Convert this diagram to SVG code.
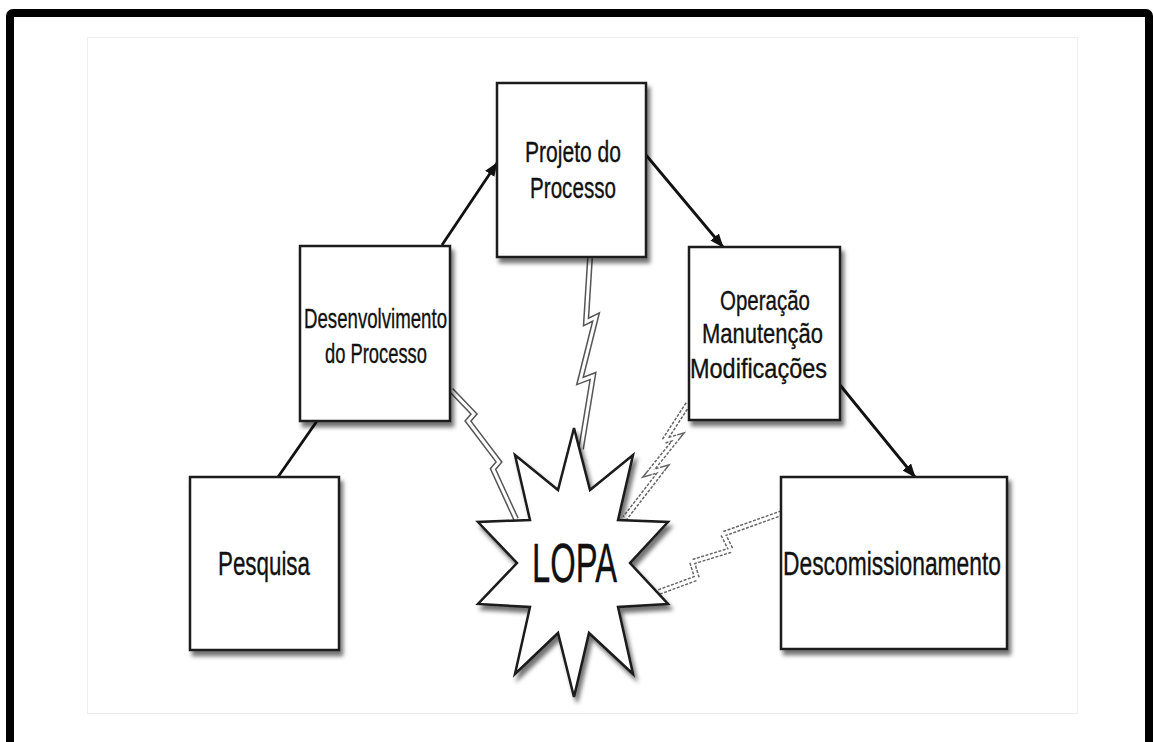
<svg xmlns="http://www.w3.org/2000/svg" width="1153" height="742" viewBox="0 0 1153 742">
<defs>
<style>
.box{fill:#fff;stroke:#1a1a1a;stroke-width:2.5;filter:url(#sh)}
.lbl{font-family:"Liberation Sans",Arial,sans-serif;fill:#111;stroke:#111;stroke-width:0.35;text-anchor:middle}
.arr{stroke:#111;stroke-width:2.8;fill:none}
.boltO{fill:none;stroke:#555;stroke-width:6;stroke-linejoin:miter}
.boltI{fill:none;stroke:#fff;stroke-width:3;stroke-linejoin:miter}
.dash{stroke-dasharray:3 1.5;stroke:#666}
</style>
<filter id="sh" x="-10%" y="-10%" width="130%" height="130%">
<feDropShadow dx="3" dy="5" stdDeviation="2" flood-color="#000" flood-opacity="0.55"/>
</filter>
<marker id="ah" markerUnits="userSpaceOnUse" markerWidth="14" markerHeight="11" viewBox="0 0 14 11" refX="13" refY="5.5" orient="auto">
<path d="M0,0 L14,5.5 L0,11 z" fill="#111"/>
</marker>
</defs>
<rect width="1153" height="742" fill="#fff"/>
<rect x="10" y="13" width="1139" height="800" rx="3" fill="none" stroke="#000" stroke-width="8"/>
<rect x="87.5" y="37.5" width="990" height="676" fill="none" stroke="#eeeeee" stroke-width="1"/>

<g id="connectors">
<line class="arr" x1="278" y1="477" x2="317" y2="421"/>
<line class="arr" x1="442" y1="245" x2="497" y2="163" marker-end="url(#ah)"/>
<line class="arr" x1="646" y1="155" x2="723" y2="247" marker-end="url(#ah)"/>
<line class="arr" x1="840" y1="385" x2="915" y2="477" marker-end="url(#ah)"/>
<g id="bolts">
<polyline class="boltO" points="451,390 474,414 468,421 499,462 493,469 516,519"/>
<polyline class="boltI" points="451,390 474,414 468,421 499,462 493,469 516,519"/>
<polyline class="boltO" points="590,258 586,322 596,317 580,381 593,376 581,449"/>
<polyline class="boltI" points="590,258 586,322 596,317 580,381 593,376 581,449"/>
<polyline class="boltO dash" points="688,404 664,441 678,437 649,473 663,469 625,518"/>
<polyline class="boltI" points="688,404 664,441 678,437 649,473 663,469 625,518"/>
<polyline class="boltO dash" points="782,513 723,534 731,550 692,562 697,578 659,592"/>
<polyline class="boltI" points="782,513 723,534 731,550 692,562 697,578 659,592"/>
</g>
</g>

<g id="node-pesquisa">
<rect class="box" x="190" y="477" width="149" height="173"/>
<text class="lbl" x="264" y="575" font-size="33" textLength="92" lengthAdjust="spacingAndGlyphs">Pesquisa</text>
</g>

<g id="node-desenvolvimento">
<rect class="box" x="300" y="246" width="150" height="175"/>
<text class="lbl" x="375.5" y="328" font-size="28" textLength="143" lengthAdjust="spacingAndGlyphs">Desenvolvimento</text>
<text class="lbl" x="376" y="363" font-size="28" textLength="102" lengthAdjust="spacingAndGlyphs">do Processo</text>
</g>

<g id="node-projeto">
<rect class="box" x="497" y="83" width="149" height="174"/>
<text class="lbl" x="573" y="162" font-size="29" textLength="96" lengthAdjust="spacingAndGlyphs">Projeto do</text>
<text class="lbl" x="573" y="198" font-size="29" textLength="86" lengthAdjust="spacingAndGlyphs">Processo</text>
</g>

<g id="node-operacao">
<rect class="box" x="689" y="247" width="151" height="173"/>
<text class="lbl" x="765" y="310" font-size="28" textLength="90" lengthAdjust="spacingAndGlyphs">Operação</text>
<text class="lbl" x="762.5" y="343" font-size="28" textLength="121" lengthAdjust="spacingAndGlyphs">Manutenção</text>
<text class="lbl" x="758.5" y="378" font-size="28" textLength="137" lengthAdjust="spacingAndGlyphs">Modificações</text>
</g>

<g id="node-descomissionamento">
<rect class="box" x="781" y="477" width="226" height="172"/>
<text class="lbl" x="892" y="575" font-size="33" textLength="218" lengthAdjust="spacingAndGlyphs">Descomissionamento</text>
</g>

<g id="node-lopa">
<polygon class="box" points="574,428 590,490 633,455 618,520 668,522 630,563 668,604 618,607 633,674 589,633 574,697 558,633 515,674 530,607 478,604 517,563 478,522 530,520 515,455 558,490"/>
<text class="lbl" x="574.5" y="582" font-size="56" textLength="85" lengthAdjust="spacingAndGlyphs">LOPA</text>
</g>
</svg>
